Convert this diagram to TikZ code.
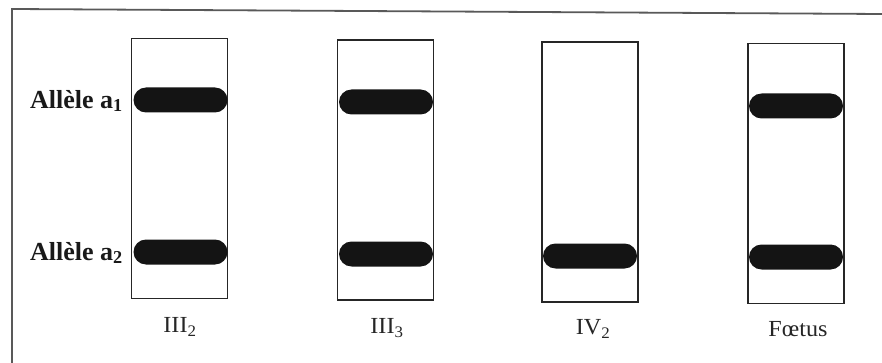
\documentclass[tikz,border=0pt]{standalone}
\usepackage{fontspec}
\setmainfont{Liberation Serif}
\usetikzlibrary{shapes.misc}
\begin{document}
\begin{tikzpicture}[x=1pt,y=-1pt,
  lane/.style={draw=black!85, line width=1.3pt, minimum width=96pt, minimum height=260pt, inner sep=0pt},
  band/.style={rounded rectangle, fill=black!92, minimum width=94pt, minimum height=25pt, inner sep=0pt},
  lanelabel/.style={font=\fontsize{23}{25}\selectfont, text=black!85, inner sep=0pt, xscale=1.05, transform shape},
  allele/.style={font=\bfseries\fontsize{26}{28}\selectfont, text=black!90, inner sep=0pt, anchor=east},
  frame/.style={draw=black!65, line width=1.8pt}]
\useasboundingbox (0,0) rectangle (882,363);
% outer frame (top and left edges)
\coordinate (ftl) at (12,9);
\coordinate (ftr) at (882,14);
\coordinate (fbl) at (12,363);
\draw[frame] (fbl) -- (ftl) -- (ftr);
% gel lanes
\node[lane] (l1) at (179.5,168.5) {};
\node[lane] (l2) at (385.5,170) {};
\node[lane] (l3) at (590,172) {};
\node[lane] (l4) at (796,173.5) {};
% bands
\node[band] (b1a) at (180.5,100) {};
\node[band] (b1b) at (180.5,252) {};
\node[band] (b2a) at (386,102) {};
\node[band] (b2b) at (386,254) {};
\node[band] (b3b) at (590,256) {};
\node[band] (b4a) at (796,106) {};
\node[band] (b4b) at (796,257) {};
% allele labels
\node[allele] (a1) at (123,101) {Allèle a\textsubscript{1}};
\node[allele] (a2) at (123,253) {Allèle a\textsubscript{2}};
% lane labels
\node[lanelabel] (t1) at (180,327) {III\textsubscript{2}};
\node[lanelabel] (t2) at (387,328) {III\textsubscript{3}};
\node[lanelabel] (t3) at (593,329) {IV\textsubscript{2}};
\node[lanelabel] (t4) at (798,329) {Fœtus};
\end{tikzpicture}
\end{document}
